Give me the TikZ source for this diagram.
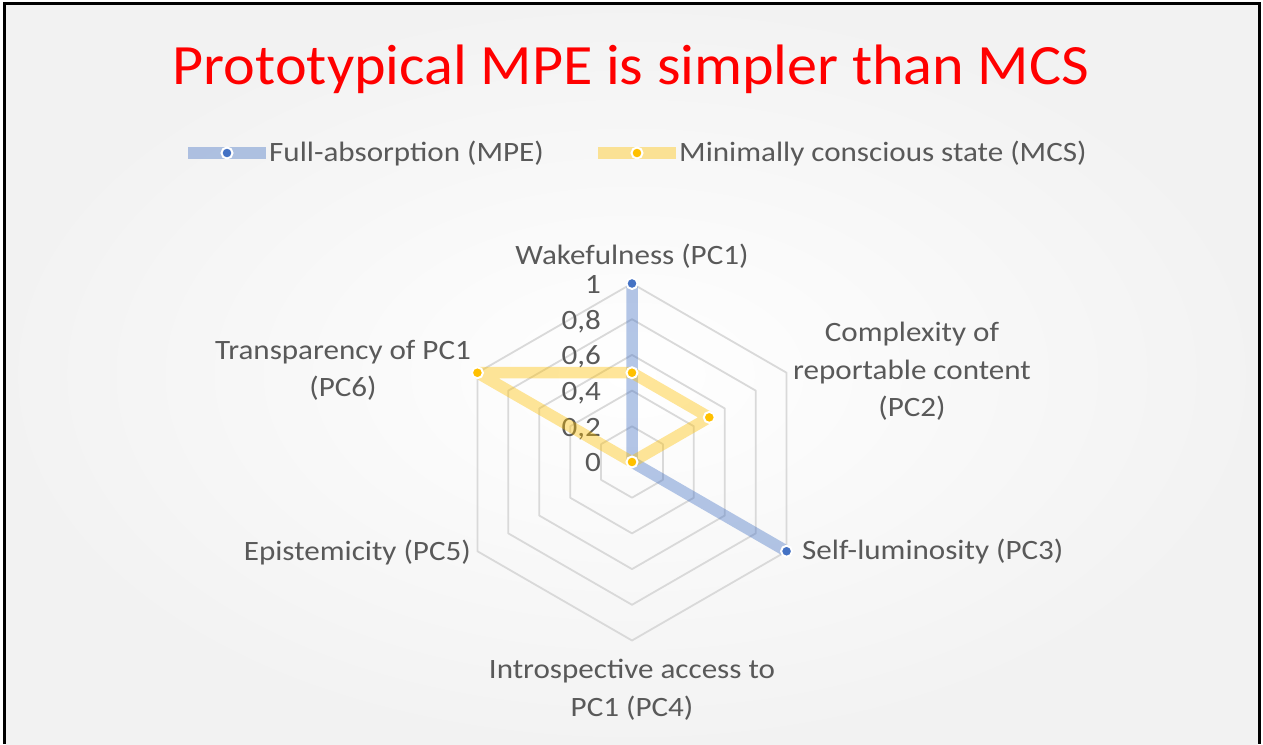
\documentclass[tikz,border=0pt]{standalone}
\usepackage{fontspec}
\setmainfont{Carlito}
\newfontfamily\widecarlito[FakeStretch=1.11]{Carlito}
\newfontfamily\titlecarlito[FakeStretch=1.055]{Carlito}
\definecolor{txtgray}{HTML}{595959}
\definecolor{gridgray}{HTML}{D9D9D9}
\definecolor{mpeblue}{HTML}{4472C4}
\definecolor{mcsgold}{HTML}{FFC000}
\definecolor{titlered}{HTML}{FF0000}
\begin{document}
\begin{tikzpicture}[x=1pt,y=1pt,
  titletext/.style={text=titlered,font=\titlecarlito\fontsize{57}{60}\selectfont,inner sep=0pt},
  lbl/.style={text=txtgray,font=\widecarlito\fontsize{28}{37.5}\selectfont,inner sep=0pt,align=center},
  tick/.style={text=txtgray,font=\widecarlito\fontsize{28}{30}\selectfont,inner sep=0pt,anchor=base east},
  ring/.style={draw=gridgray,line width=1.8pt,line join=round},
  mpeline/.style={draw=mpeblue,draw opacity=0.4,line width=11.5pt,line join=round},
  mcsline/.style={draw=mcsgold,draw opacity=0.4,line width=11.5pt,line join=round},
  mpedot/.style={circle,inner sep=0pt,minimum size=11pt,fill=mpeblue,draw=white,line width=2pt},
  mcsdot/.style={circle,inner sep=0pt,minimum size=11pt,fill=mcsgold,draw=white,line width=2pt}]
\useasboundingbox (0,0) rectangle (1263,744);
% slide background and frame
\fill[white] (0,0) rectangle (1263,744);
\shade[inner color=white,outer color=black!5] (5.5,0) rectangle (1257.5,739);
\draw[line width=3pt] (4,0) -- (4,740.5) -- (1259,740.5) -- (1259,0);

% title
\node[titletext,anchor=base] (title) at (631,659) {Prototypical MPE is simpler than MCS};

% legend
\coordinate (lga) at (188,591);
\coordinate (lgb) at (266,591);
\draw[mpeline] (lga) -- (lgb);
\node[mpedot] (lgdot1) at (227,591) {};
\node[lbl,anchor=base west] (lgtxt1) at (269,582) {Full-absorption (MPE)};
\coordinate (lgc) at (598,591);
\coordinate (lgd) at (676,591);
\draw[mcsline] (lgc) -- (lgd);
\node[mcsdot] (lgdot2) at (637,591) {};
\node[lbl,anchor=base west] (lgtxt2) at (679,582) {Minimally conscious state (MCS)};

% radar grid
\coordinate (c) at (632,282);
\foreach \k in {1,...,5}{
  \pgfmathsetmacro{\r}{\k*35.7}
  \draw[ring] ([shift={(90:\r)}]c) -- ([shift={(30:\r)}]c) -- ([shift={(-30:\r)}]c)
    -- ([shift={(-90:\r)}]c) -- ([shift={(-150:\r)}]c) -- ([shift={(150:\r)}]c) -- cycle;
}

% scale labels
\node[tick] (t0) at (601,272) {0};
\node[tick] (t2) at (601,307.7) {0,2};
\node[tick] (t4) at (601,343.4) {0,4};
\node[tick] (t6) at (601,379.1) {0,6};
\node[tick] (t8) at (601,414.8) {0,8};
\node[tick] (t10) at (601,450.5) {1};

% axis labels (base anchor sits on the last line)
\node[lbl,anchor=base] (pc1) at (632,479) {Wakefulness (PC1)};
\node[lbl,anchor=base] (pc2) at (912,327) {Complexity of\\reportable content\\(PC2)};
\node[lbl,anchor=base west] (pc3) at (802,184) {Self-luminosity (PC3)};
\node[lbl,anchor=base] (pc4) at (632,28) {Introspective access to\\PC1 (PC4)};
\node[lbl,anchor=base east] (pc5) at (471,183) {Epistemicity (PC5)};
\node[lbl,anchor=base] (pc6) at (343,347) {Transparency of PC1\\(PC6)};

% data points
\coordinate (b1) at ([shift={(90:178.5)}]c);
\coordinate (b3) at ([shift={(-30:178.5)}]c);
\coordinate (y1) at ([shift={(90:89.25)}]c);
\coordinate (y2) at ([shift={(30:89.25)}]c);
\coordinate (y6) at ([shift={(150:178.5)}]c);

% Full-absorption (MPE)
\draw[mpeline] (b1) -- (c) -- (b3) -- (c) -- cycle;
% Minimally conscious state (MCS)
\draw[mcsline] (y1) -- (y2) -- (c) -- (y6) -- cycle;

\node[mpedot] (m1) at (b1) {};
\node[mpedot] (m3) at (b3) {};
\node[mcsdot] (n1) at (y1) {};
\node[mcsdot] (n2) at (y2) {};
\node[mcsdot] (n0) at (c) {};
\node[mcsdot] (n6) at (y6) {};
\end{tikzpicture}
\end{document}
